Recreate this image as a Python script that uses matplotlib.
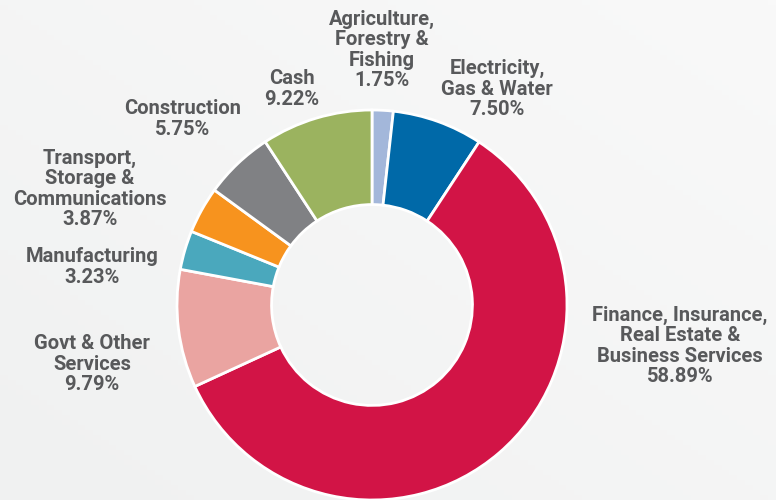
import matplotlib
matplotlib.use("Agg")
import matplotlib.pyplot as plt
import numpy as np
from matplotlib.colors import LinearSegmentedColormap

categories = ["Agriculture,\nForestry &\nFishing", "Electricity,\nGas & Water",
              "Finance, Insurance,\nReal Estate &\nBusiness Services", "Govt & Other\nServices",
              "Manufacturing", "Transport,\nStorage &\nCommunications", "Construction", "Cash"]
values = [1.75, 7.50, 58.89, 9.79, 3.23, 3.87, 5.75, 9.22]
colors = ["#a3b7da", "#0069a8", "#d21446", "#eaa4a1", "#4aa8bd", "#f7931e", "#808184", "#9bb35f"]
label_pos = [(382, 50), (497, 89), (680, 346), (92, 364), (92, 267), (90, 189), (183, 119), (292, 89)]

W, H = 776, 500
fig = plt.figure(figsize=(W/100, H/100), dpi=100)
fig.patch.set_facecolor("#f2f3f3")
ax = fig.add_axes([0, 0, 1, 1])
ax.set_facecolor("#f2f3f3")

yy, xx = np.mgrid[0:1:100j, 0:1:100j]
grad = np.clip(0.5 * xx + 0.5 * yy, 0, 1)
cm = LinearSegmentedColormap.from_list("bg", ["#f0f1f1", "#f9f9f9"])
ax.imshow(grad, cmap=cm, extent=[0, W, 0, H], origin="lower", zorder=0, aspect="auto")

cx, cy, R = 372, H - 305, 195
ax.pie(values, colors=colors, startangle=90, counterclock=False, radius=R, center=(cx, cy),
       wedgeprops=dict(width=R * 0.485, edgecolor="white", linewidth=2), frame=True)
ax.set_xlim(0, W)
ax.set_ylim(0, H)
ax.set_aspect("equal")
ax.axis("off")

for cat, v, (x, y) in zip(categories, values, label_pos):
    ax.text(x, H - y, f"{cat}\n{v:.2f}%", ha="center", va="center", fontsize=14.5,
            fontweight="bold", color="#58595b", family="Roboto", linespacing=1.08)

fig.savefig("out.png", dpi=100, facecolor=fig.get_facecolor())
